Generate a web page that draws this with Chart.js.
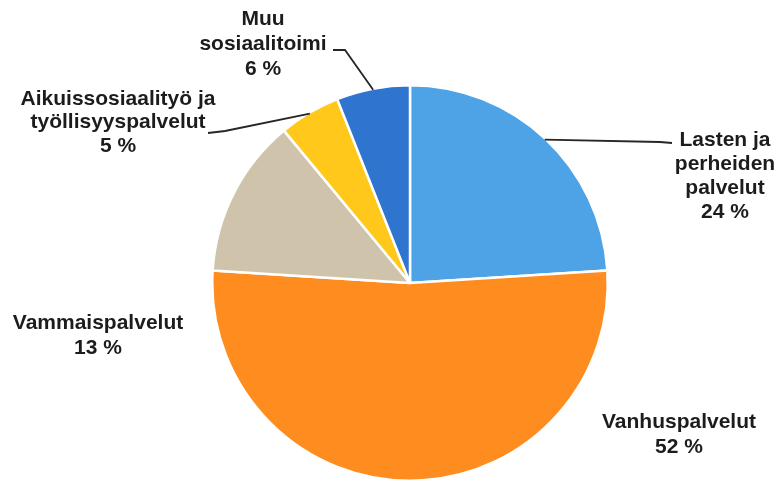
<!DOCTYPE html>
<html>
<head>
<meta charset="utf-8">
<script src="https://cdn.jsdelivr.net/npm/chart.js@4"></script>
<style>
  html, body { margin: 0; padding: 0; background: #fff; }
  #wrap { width: 780px; height: 484px; }
</style>
</head>
<body>
<div id="wrap"><canvas id="chart" width="780" height="484"></canvas></div>
<script>
// slices, clockwise from 12 o'clock
const categories = ['Lasten ja perheiden palvelut', 'Vanhuspalvelut', 'Vammaispalvelut',
  'Aikuissosiaalityö ja työllisyyspalvelut', 'Muu sosiaalitoimi']
const shares = [24, 52, 13, 5, 6]
const labelLines = [
  ['Lasten ja', 'perheiden', 'palvelut'],
  ['Vanhuspalvelut'],
  ['Vammaispalvelut'],
  ['Aikuissosiaalityö ja', 'työllisyyspalvelut'],
  ['Muu', 'sosiaalitoimi']
]
const colors = ['#4ea2e6', '#ff8c1e', '#cfc3ab', '#ffc81a', '#2f74cf']

// label placement relative to pie centre (px), plus leader line bends
const labelPos = [
  {dx: 315, dy: -143, gap: 24, leader: [[250, -141], [262, -140]]},
  {dx: 269, dy: 139, gap: 25},
  {dx: -312, dy: 40, gap: 25},
  {dx: -292, dy: -184, gap: 23.5, leader: [[-185, -152], [-202, -150]]},
  {dx: -147, dy: -264, gap: 25, leader: [[-65, -233], [-77, -233]]}
]

const pieLabels = {
  id: 'pieLabels',
  afterDraw(chart) {
    const ctx = chart.ctx
    const arcs = chart.getDatasetMeta(0).data
    ctx.save()
    arcs.forEach((arc, i) => {
      const {x, y, startAngle, endAngle, outerRadius} = arc.getProps(['x', 'y', 'startAngle', 'endAngle', 'outerRadius'], true)
      const p = labelPos[i]
      if (p.leader) {
        const mid = (startAngle + endAngle) / 2
        ctx.beginPath()
        ctx.moveTo(x + Math.cos(mid) * (outerRadius - 1), y + Math.sin(mid) * (outerRadius - 1))
        p.leader.forEach(pt => ctx.lineTo(x + pt[0], y + pt[1]))
        ctx.strokeStyle = '#262626'
        ctx.lineWidth = 1.8
        ctx.stroke()
      }
      const lines = labelLines[i].concat([shares[i] + ' %'])
      ctx.fillStyle = '#1c1c1c'
      ctx.font = 'bold 21px "Liberation Sans", Arial, sans-serif'
      ctx.textAlign = 'center'
      ctx.textBaseline = 'middle'
      lines.forEach((t, k) => ctx.fillText(t, x + p.dx, y + p.dy + k * p.gap))
    })
    ctx.restore()
  }
}

new Chart(document.getElementById('chart'), {
  type: 'pie',
  data: {
    labels: categories,
    datasets: [{
      data: shares,
      backgroundColor: colors,
      borderColor: '#ffffff',
      borderWidth: 2.5
    }]
  },
  options: {
    responsive: false,
    animation: false,
    layout: {padding: {top: 84, bottom: 2, left: 40, right: 0}},
    plugins: {
      legend: {display: false},
      tooltip: {enabled: false}
    }
  },
  plugins: [pieLabels]
})
</script>
</body>
</html>
